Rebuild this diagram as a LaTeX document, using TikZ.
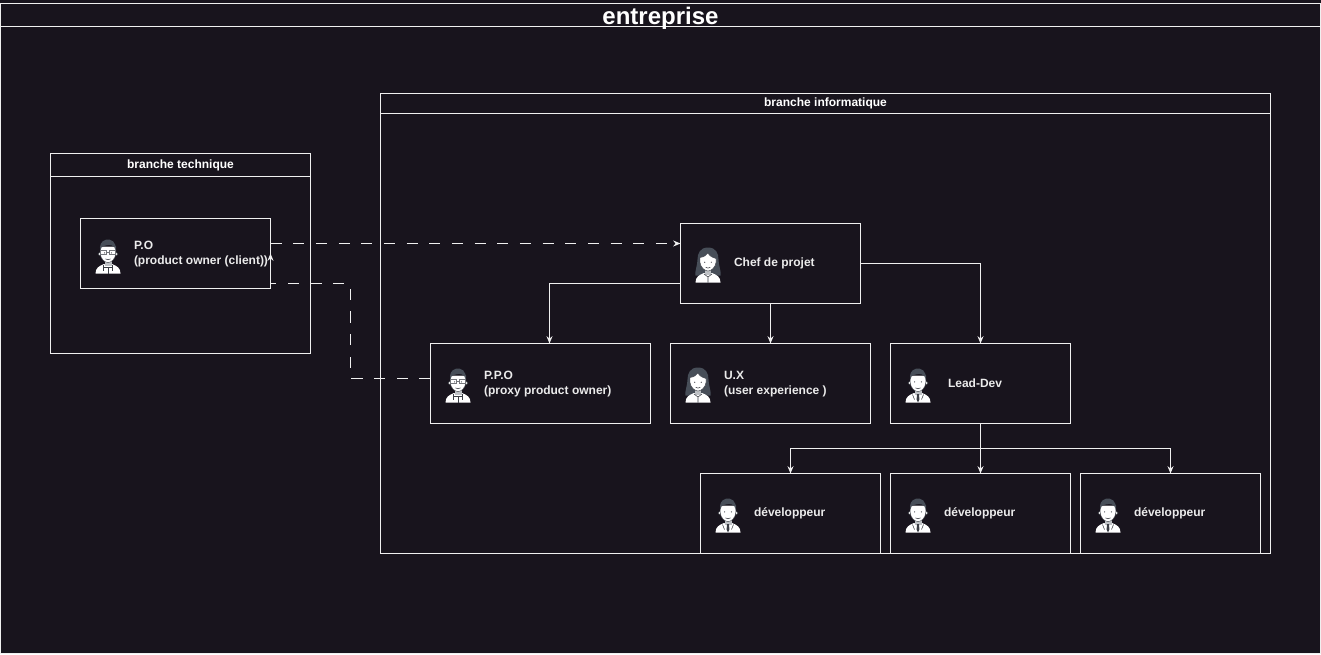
\documentclass[tikz,border=0pt]{standalone}
\usepackage{fontspec}
\setmainfont{Liberation Sans}
\usetikzlibrary{arrows.meta,calc}
\definecolor{bgc}{HTML}{18141D}
\definecolor{linec}{HTML}{F0F0F0}
\definecolor{hairc}{HTML}{474E58}
\definecolor{inkc}{HTML}{3A3D44}
\tikzset{
  px/.style={x=0.75pt,y=-0.75pt},
  boxn/.style 2 args={draw=linec,line width=0.75pt,anchor=north west,inner sep=0pt,outer sep=0pt,
     minimum width=#1*0.75pt,minimum height=#2*0.75pt,text=white,font=\bfseries\fontsize{9}{11}\selectfont},
  lbl/.style={anchor=west,inner sep=0pt,outer sep=0pt,align=left,text=white!92!black,
     font=\bfseries\fontsize{9}{11.25}\selectfont},
  conn/.style={draw=linec,line width=0.75pt,-{Stealth[length=5.5pt,width=4.5pt]}},
  dashconn/.style={conn,dash pattern=on 8.4pt off 8.6pt},
  bodyshape/.pic={
    \fill[white] (-12.5,17) .. controls (-12.5,11.5) and (-9,9.5) .. (-4,7.5) -- (0,9) -- (4,7.5) .. controls (9,9.5) and (12.5,11.5) .. (12.5,17) -- cycle;
  },
  manface/.pic={
    \fill[hairc!35!white] (-3.5,2) rectangle (3.5,9);
    \fill[white,draw=inkc,line width=0.3pt] (-8.4,-2.5) circle (1.6) (8.4,-2.5) circle (1.6);
    \fill[white,draw=inkc,line width=0.3pt] (-7.8,-10) -- (-7.8,-3) .. controls (-7.3,3) and (-3,6) .. (0,6) .. controls (3,6) and (7.3,3) .. (7.8,-3) -- (7.8,-10) -- cycle;
    \fill[hairc] (-7.6,-5.5) .. controls (-9,-11) and (-7,-15.5) .. (-2,-16.8) .. controls (3,-17.8) and (9,-15) .. (7.6,-5.5) -- (6.6,-9) .. controls (5,-11) and (3,-11.5) .. (1,-11.5) .. controls (-2,-11.5) and (-5,-10.5) .. (-6.6,-9) -- cycle;
    \draw[inkc,line width=0.4pt] (-2.5,2.4) .. controls (-1,3.5) and (1,3.5) .. (2.5,2.4);
    \fill[inkc] (-3.4,-3.6) circle (0.6) (3.4,-3.6) circle (0.6);
  },
  glassman/.pic={
    \pic at (0,0) {bodyshape};
    \pic at (0,0) {manface};
    \draw[inkc!70!white,line width=0.4pt] (-7.3,-5.8) rectangle (-1.3,-2) (1.3,-5.8) rectangle (7.3,-2) (-1.3,-4.5) -- (1.3,-4.5);
    \draw[inkc,line width=0.4pt] (-4.5,8.5) -- (-4.5,14) (4.5,8.5) -- (4.5,14) (-4.5,11) -- (4.5,11) (0,11) -- (0,17);
  },
  plainman/.pic={
    \pic at (0,0) {bodyshape};
    \pic at (0,0) {manface};
    \fill[inkc] (-1,8.5) -- (1,8.5) -- (1.4,14) -- (0,17) -- (-1.4,14) -- cycle;
    \draw[inkc,line width=0.4pt] (-5.5,9) -- (-3.5,14) (5.5,9) -- (3.5,14);
  },
  woman/.pic={
    \fill[hairc] (0,-18) .. controls (-8,-18) and (-10.5,-12) .. (-10.5,-6) .. controls (-10.5,0) and (-13.5,6) .. (-12.5,10) -- (12.5,10) .. controls (13.5,6) and (10.5,0) .. (10.5,-6) .. controls (10.5,-12) and (8,-18) .. (0,-18) -- cycle;
    \pic at (0,0) {bodyshape};
    \fill[hairc!35!white] (-3,2) rectangle (3,9);
    \fill[white,draw=inkc,line width=0.3pt] (-8,-8) -- (-8,-3) .. controls (-7.5,2) and (-3,5.5) .. (0,5.5) .. controls (3,5.5) and (7.5,2) .. (8,-3) -- (8,-7) .. controls (4,-8) and (1,-10) .. (0,-12.5) .. controls (-2,-10) and (-4,-8.5) .. (-8,-8) -- cycle;
    \draw[inkc,line width=0.4pt] (-2.3,1.8) .. controls (-1,2.9) and (1,2.9) .. (2.3,1.8);
    \fill[inkc] (-3.3,-3.3) circle (0.6) (3.3,-3.3) circle (0.6);
    \draw[inkc,line width=0.4pt] (-4,8.5) -- (0,11.5) -- (4,8.5) (0,11.5) -- (0,17);
  },
}
\begin{document}
\begin{tikzpicture}[px]
\useasboundingbox (0,0) rectangle (1321,654);
\fill[bgc] (0,0) rectangle (1321,654);

% outer frame
\node[boxn={1320}{627}] (frame) at (0.5,26.5) {};
\node[boxn={1320}{23},font=\bfseries\fontsize{18}{20}\selectfont,text depth=0pt] (framehead) at (0.5,3.5) {\raisebox{-0.5pt}{entreprise}};

% containers
\node[boxn={260}{200}] (tech) at (50.5,153.5) {};
\node[boxn={260}{23}] (techhead) at (50.5,153.5) {\raisebox{-1.2pt}{branche technique}};
\node[boxn={890}{460}] (info) at (380.5,93.5) {};
\node[boxn={890}{20}] (infohead) at (380.5,93.5) {\raisebox{-1.2pt}{branche informatique}};

% person boxes
\node[boxn={190}{70}] (po) at (80.5,218.5) {};
\node[boxn={180}{80}] (chef) at (680.5,223.5) {};
\node[boxn={220}{80}] (ppo) at (430.5,343.5) {};
\node[boxn={200}{80}] (ux) at (670.5,343.5) {};
\node[boxn={180}{80}] (lead) at (890.5,343.5) {};
\node[boxn={180}{80}] (deva) at (700.5,473.5) {};
\node[boxn={180}{80}] (devb) at (890.5,473.5) {};
\node[boxn={180}{80}] (devc) at (1080.5,473.5) {};

% icons
\pic at (108,256.5) {glassman};
\pic at (708,265.5) {woman};
\pic at (458,385.5) {glassman};
\pic at (698,385.5) {woman};
\pic at (918,385.5) {plainman};
\pic at (728,515.5) {plainman};
\pic at (918,515.5) {plainman};
\pic at (1108,515.5) {plainman};

% labels
\node[lbl] (polbl) at (134,254.5) {P.O\\(product owner (client))};
\node[lbl] (cheflbl) at (734,263.5) {Chef de projet};
\node[lbl] (ppolbl) at (484,384.5) {P.P.O\\(proxy product owner)};
\node[lbl] (uxlbl) at (724,384.5) {U.X\\(user experience )};
\node[lbl] (leadlbl) at (948,383.5) {Lead-Dev};
\node[lbl] (devalbl) at (754,513.5) {développeur};
\node[lbl] (devblbl) at (944,513.5) {développeur};
\node[lbl] (devclbl) at (1134,513.5) {développeur};

% connector anchors on the box edges
\coordinate (poout) at ($(po.north east)+(0,25)$);
\coordinate (chefin) at ($(chef.north west)+(0,20)$);
\coordinate (ppoout) at ($(ppo.north west)+(0,35)$);
\coordinate (ppobend) at ($(ppo.north west)+(-80,35)$);
\coordinate (pobend) at ($(ppo.north west)+(-80,-60)$);
\coordinate (poin) at ($(po.north east)+(0,35)$);
\coordinate (poedge) at ($(po.south east)+(2,-5)$);
\coordinate (chefleft) at ($(chef.north west)+(0,60)$);
\coordinate (ppotop) at ($(ppo.north west)+(119,0)$);
\coordinate (busl) at ($(lead.south)+(0,25)$);

% connectors
\draw[dashconn] (poout) -- (chefin);
\draw[dashconn] (ppoout) -- (ppobend) -- (pobend) -- (poedge) -- ($(po.south east)+(0,-5)$) -- (poin);
\draw[conn] (chefleft) -| (ppotop);
\draw[conn] (chef.south -| ux.north) -- (ux.north);
\draw[conn] (chef.east) -| (lead.north);
\draw[conn] (lead.south) -- (devb.north);
\draw[conn] (busl) -| (deva.north);
\draw[conn] (busl) -| (devc.north);
\end{tikzpicture}
\end{document}
